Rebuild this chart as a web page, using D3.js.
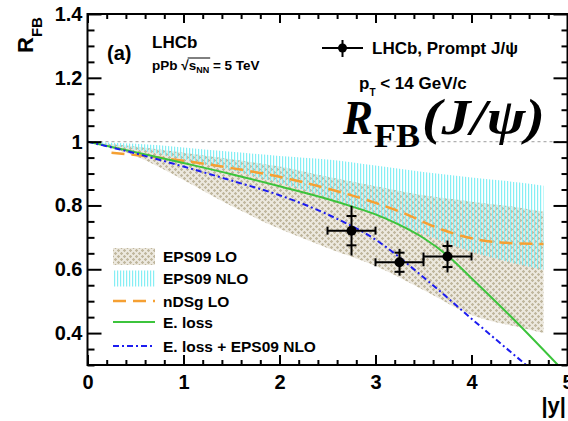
<!DOCTYPE html>
<html>
<head>
<meta charset="utf-8">
<script src="https://cdn.jsdelivr.net/npm/d3@7"></script>
<style>
body { margin: 0; background: #fff; }
svg { display: block; font-family: "Liberation Sans", Arial, Helvetica, sans-serif; font-weight: bold; }
</style>
</head>
<body>
<div id="chart"></div>
<script>
// EPS09 bands, sampled on one rapidity grid
const bandX = [0, 0.5, 1, 1.5, 2, 2.5, 3, 3.5, 4, 4.5, 4.75];
const eps09LOUpper = [1.0, 0.985, 0.965, 0.945, 0.922, 0.89, 0.86, 0.832, 0.812, 0.793, 0.78];
const eps09LOLower = [1.0, 0.955, 0.88, 0.798, 0.727, 0.667, 0.61, 0.535, 0.457, 0.418, 0.40];
const eps09NLOUpper = [1.0, 0.993, 0.982, 0.968, 0.955, 0.944, 0.925, 0.905, 0.888, 0.872, 0.862];
const eps09NLOLower = [1.0, 0.975, 0.945, 0.91, 0.87, 0.825, 0.77, 0.71, 0.655, 0.615, 0.598];

// model curves
const ndsgX = [0.25, 0.5, 1, 1.5, 2, 2.5, 3, 3.3, 3.6, 4.0, 4.3, 4.75];
const ndsgY = [0.965, 0.958, 0.94, 0.917, 0.89, 0.853, 0.808, 0.775, 0.735, 0.697, 0.684, 0.679];
const eLossX = [0, 0.5, 1, 1.5, 2, 2.5, 2.75, 3, 3.25, 3.5, 3.75, 4, 4.4, 4.9];
const eLossY = [1.0, 0.967, 0.933, 0.898, 0.86, 0.82, 0.797, 0.772, 0.739, 0.698, 0.643, 0.572, 0.455, 0.30];
const eLossEpsX = [0, 0.5, 1, 1.5, 2, 2.5, 3, 3.5, 4, 4.57];
const eLossEpsY = [1.0, 0.963, 0.922, 0.878, 0.832, 0.772, 0.693, 0.575, 0.445, 0.30];

// LHCb prompt J/psi points
const pointX = [2.75, 3.25, 3.75];
const pointY = [0.721, 0.622, 0.64];
const pointXErr = [0.25, 0.25, 0.25];
const pointStat = [0.046, 0.03, 0.033];
const pointTotal = [0.078, 0.042, 0.05];

const xTickValues = [0, 1, 2, 3, 4, 5];
const yTickValues = [0.4, 0.6, 0.8, 1, 1.2, 1.4];

const legendLabels = ["EPS09 LO", "EPS09 NLO", "nDSg LO", "E. loss", "E. loss + EPS09 NLO"];

const width = 568, height = 421;

const svg = d3.select("#chart")
    .append("svg")
    .attr("width", width)
    .attr("height", height);

const x = d3.scaleLinear().domain([0, 5]).range([87.5, 567.5]);
const y = d3.scaleLinear().domain([0.3, 1.4]).range([365, 14]);

const defs = svg.append("defs");

const loPat = defs.append("pattern")
    .attr("id", "hatchLO")
    .attr("patternUnits", "userSpaceOnUse")
    .attr("width", 6)
    .attr("height", 6);
loPat.append("rect").attr("width", 6).attr("height", 6).attr("fill", "#ece8de");
[[1.5, 1.5], [4.5, 4.5]].forEach(([cx, cy]) => {
    loPat.append("rect").attr("x", cx - 1.5).attr("y", cy - 0.6).attr("width", 3).attr("height", 1.2).attr("fill", "#c0b79e");
    loPat.append("rect").attr("x", cx - 0.6).attr("y", cy - 1.5).attr("width", 1.2).attr("height", 3).attr("fill", "#c0b79e");
});

const nloPat = defs.append("pattern")
    .attr("id", "hatchNLO")
    .attr("patternUnits", "userSpaceOnUse")
    .attr("width", 3)
    .attr("height", 10);
nloPat.append("rect").attr("width", 1.2).attr("height", 10).attr("fill", "#86eef4");

defs.append("clipPath")
    .attr("id", "plotClip")
    .append("rect")
    .attr("x", x(0))
    .attr("y", y(1.4))
    .attr("width", x(5) - x(0))
    .attr("height", y(0.3) - y(1.4));

const plot = svg.append("g").attr("clip-path", "url(#plotClip)");

// reference line at 1
plot.append("line")
    .attr("x1", x(0)).attr("x2", x(5))
    .attr("y1", y(1)).attr("y2", y(1))
    .attr("stroke", "#b0b0b0")
    .attr("stroke-width", 1.3)
    .attr("stroke-dasharray", "3,3");

const bandArea = (lower, upper) => d3.area()
    .x((d, i) => x(bandX[i]))
    .y0((d, i) => y(lower[i]))
    .y1((d, i) => y(upper[i]))
    .curve(d3.curveMonotoneX)(bandX);

plot.append("path")
    .attr("d", bandArea(eps09LOLower, eps09LOUpper))
    .attr("fill", "url(#hatchLO)");

plot.append("path")
    .attr("d", bandArea(eps09NLOLower, eps09NLOUpper))
    .attr("fill", "url(#hatchNLO)");

const curve = (xs, ys) => d3.line()
    .x((d, i) => x(xs[i]))
    .y((d, i) => y(ys[i]))
    .curve(d3.curveMonotoneX)(xs);

const ndsgStyle = {stroke: "#f5a033", width: 2.5, dash: "13,7"};
const eLossStyle = {stroke: "#3cc43c", width: 2, dash: null};
const eLossEpsStyle = {stroke: "#1c1cf0", width: 2, dash: "6,3,2,3"};

[[ndsgX, ndsgY, ndsgStyle], [eLossX, eLossY, eLossStyle], [eLossEpsX, eLossEpsY, eLossEpsStyle]].forEach(([xs, ys, s]) => {
    plot.append("path")
        .attr("d", curve(xs, ys))
        .attr("fill", "none")
        .attr("stroke", s.stroke)
        .attr("stroke-width", s.width)
        .attr("stroke-dasharray", s.dash);
});

// data points
const pts = svg.append("g").attr("stroke", "#000").attr("stroke-width", 2);
pointX.forEach((px, i) => {
    const cx = x(px), cy = y(pointY[i]);
    pts.append("line")
        .attr("x1", x(px - pointXErr[i])).attr("x2", x(px + pointXErr[i]))
        .attr("y1", cy).attr("y2", cy);
    [px - pointXErr[i], px + pointXErr[i]].forEach(v => {
        pts.append("line").attr("x1", x(v)).attr("x2", x(v)).attr("y1", cy - 4).attr("y2", cy + 4);
    });
    pts.append("line")
        .attr("x1", cx).attr("x2", cx)
        .attr("y1", y(pointY[i] - pointTotal[i])).attr("y2", y(pointY[i] + pointTotal[i]));
    [pointY[i] - pointStat[i], pointY[i] + pointStat[i]].forEach(v => {
        pts.append("line").attr("x1", cx - 5).attr("x2", cx + 5).attr("y1", y(v)).attr("y2", y(v));
    });
    pts.append("circle").attr("cx", cx).attr("cy", cy).attr("r", 5).attr("fill", "#000").attr("stroke", "none");
});

// axes, ticks pointing inward
const yMinor = d3.range(0.3, 1.4001, 0.05).filter(v => !yTickValues.some(t => Math.abs(t - v) < 1e-6));
const xMinor = d3.range(0, 5.0001, 0.2).filter(v => !xTickValues.some(t => Math.abs(t - v) < 1e-6));

function styleAxis(g) {
    g.select(".domain").remove();
    g.selectAll("line").attr("stroke", "#000").attr("stroke-width", 2);
    g.selectAll("text").attr("fill", "#000").style("font-size", "20px").style("font-weight", "bold")
        .style("font-family", "'Liberation Sans', Arial, sans-serif");
}

svg.append("g")
    .attr("transform", `translate(${x(0)},0)`)
    .call(d3.axisLeft(y).tickValues(yTickValues).tickSize(-14).tickPadding(5).tickFormat(d3.format("~g")))
    .call(styleAxis);
svg.append("g")
    .attr("transform", `translate(${x(0)},0)`)
    .call(d3.axisLeft(y).tickValues(yMinor).tickSize(-7).tickFormat(""))
    .call(styleAxis);
svg.append("g")
    .attr("transform", `translate(${x(5)},0)`)
    .call(d3.axisRight(y).tickValues(yTickValues).tickSize(-14).tickFormat(""))
    .call(styleAxis);
svg.append("g")
    .attr("transform", `translate(${x(5)},0)`)
    .call(d3.axisRight(y).tickValues(yMinor).tickSize(-6).tickFormat(""))
    .call(styleAxis);
svg.append("g")
    .attr("transform", `translate(0,${y(0.3)})`)
    .call(d3.axisBottom(x).tickValues(xTickValues).tickSize(-10).tickPadding(10).tickFormat(d3.format("d")))
    .call(styleAxis);
svg.append("g")
    .attr("transform", `translate(0,${y(0.3)})`)
    .call(d3.axisBottom(x).tickValues(xMinor).tickSize(-5).tickFormat(""))
    .call(styleAxis);
svg.append("g")
    .attr("transform", `translate(0,${y(1.4)})`)
    .call(d3.axisTop(x).tickValues(xTickValues).tickSize(-9).tickFormat(""))
    .call(styleAxis);
svg.append("g")
    .attr("transform", `translate(0,${y(1.4)})`)
    .call(d3.axisTop(x).tickValues(xMinor).tickSize(-5).tickFormat(""))
    .call(styleAxis);

svg.append("rect")
    .attr("x", x(0)).attr("y", y(1.4))
    .attr("width", x(5) - x(0)).attr("height", y(0.3) - y(1.4))
    .attr("fill", "none").attr("stroke", "#000").attr("stroke-width", 2);

// axis titles
const yTitle = svg.append("text")
    .attr("transform", "translate(33,53) rotate(-90)")
    .style("font-size", "22px");
yTitle.append("tspan").text("R");
yTitle.append("tspan").attr("dy", 9).style("font-size", "15px").text("FB");

svg.append("text")
    .attr("x", 566).attr("y", 413)
    .attr("text-anchor", "end")
    .style("font-size", "22px")
    .text("|y|");

// labels
svg.append("text").attr("x", 107).attr("y", 60).style("font-size", "20px").text("(a)");
svg.append("text").attr("x", 152).attr("y", 48).style("font-size", "17px").text("LHCb");

const energy = svg.append("text").attr("x", 152).attr("y", 70).style("font-size", "13.5px");
energy.append("tspan").text("pPb ");
energy.append("tspan").text("\u221A");
energy.append("tspan").text("s");
energy.append("tspan").attr("dy", 3).style("font-size", "9px").text("NN");
energy.append("tspan").attr("dy", -3).text(" = 5 TeV");
const en = energy.node();
svg.append("line")
    .attr("x1", en.getEndPositionOfChar(4).x - 1)
    .attr("x2", en.getEndPositionOfChar(7).x + 1)
    .attr("y1", 58).attr("y2", 58)
    .attr("stroke", "#000").attr("stroke-width", 1);

// LHCb point legend
const lg = svg.append("g").attr("stroke", "#000").attr("stroke-width", 2);
lg.append("line").attr("x1", 322).attr("x2", 363).attr("y1", 48).attr("y2", 48);
lg.append("line").attr("x1", 342.5).attr("x2", 342.5).attr("y1", 40).attr("y2", 57);
lg.append("circle").attr("cx", 342.5).attr("cy", 48).attr("r", 4.5).attr("fill", "#000").attr("stroke", "none");
svg.append("text").attr("x", 372).attr("y", 54).style("font-size", "17px").text("LHCb, Prompt J/\u03C8");

const pt = svg.append("text").attr("x", 359).attr("y", 89).style("font-size", "17px");
pt.append("tspan").text("p");
pt.append("tspan").attr("dy", 7).style("font-size", "10px").text("T");
pt.append("tspan").attr("dy", -7).text(" < 14 GeV/c");

// big formula
const serif = "'Liberation Serif', 'Times New Roman', serif";
svg.append("text").attr("x", 343).attr("y", 134)
    .style("font-family", serif).style("font-style", "italic").style("font-size", "48px")
    .attr("textLength", 30).attr("lengthAdjust", "spacingAndGlyphs").text("R");
svg.append("text").attr("x", 374).attr("y", 147)
    .style("font-family", serif).style("font-size", "34px")
    .attr("textLength", 46).attr("lengthAdjust", "spacingAndGlyphs").text("FB");
svg.append("text").attr("x", 422).attr("y", 134)
    .style("font-family", serif).style("font-style", "italic").style("font-size", "50px")
    .attr("textLength", 123).attr("lengthAdjust", "spacingAndGlyphs").text("(J/\u03C8)");

// model legend
const legendY = [256.5, 278.5, 301, 322, 346];
const legend = svg.append("g");
legend.append("rect").attr("x", 113).attr("y", 248).attr("width", 42).attr("height", 17).attr("fill", "url(#hatchLO)");
legend.append("rect").attr("x", 113).attr("y", 270.5).attr("width", 42).attr("height", 16).attr("fill", "url(#hatchNLO)");
[[legendY[2], ndsgStyle], [legendY[3], eLossStyle], [legendY[4], eLossEpsStyle]].forEach(([ly, s]) => {
    legend.append("line")
        .attr("x1", 113).attr("x2", 155).attr("y1", ly).attr("y2", ly)
        .attr("stroke", s.stroke).attr("stroke-width", s.width)
        .attr("stroke-dasharray", s.dash);
});
legendLabels.forEach((t, i) => {
    legend.append("text")
        .attr("x", 163).attr("y", legendY[i] + 5.5)
        .style("font-size", "15.5px")
        .text(t);
});
</script>
</body>
</html>
